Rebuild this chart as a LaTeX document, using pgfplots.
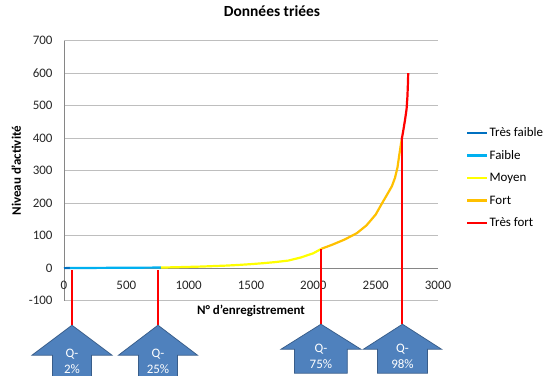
\documentclass[border=0pt]{standalone}
\usepackage{pgfplots}
\pgfplotsset{compat=1.18}
\usepackage{fontspec}
\setmainfont{Carlito}

\definecolor{tresfaible}{RGB}{0,112,192}
\definecolor{faible}{RGB}{0,176,240}
\definecolor{moyen}{RGB}{255,255,0}
\definecolor{fort}{RGB}{255,192,0}
\definecolor{tresfort}{RGB}{255,0,0}
\definecolor{flecheFill}{RGB}{79,129,189}
\definecolor{flecheDraw}{RGB}{56,93,138}
\definecolor{grille}{RGB}{190,190,190}
\definecolor{axe}{RGB}{134,134,134}

% block arrow pointing up: centre x, tip y, head half-width, shaft half-width, base y, bottom y
\newcommand{\fleche}[6]{%
  \draw[fill=flecheFill, draw=flecheDraw, line width=0.75bp]
    (axis cs:#1,#2)
    -- (axis cs:{#1+#3},#5) -- (axis cs:{#1+#4},#5)
    -- (axis cs:{#1+#4},#6) -- (axis cs:{#1-#4},#6)
    -- (axis cs:{#1-#4},#5) -- (axis cs:{#1-#3},#5) -- cycle;}

\begin{document}
\begin{tikzpicture}
\begin{axis}[
  at={(64bp,75.3bp)}, anchor=south west,
  scale only axis, width=374bp, height=260bp,
  xmin=0, xmax=3000, ymin=-100, ymax=700,
  axis x line=middle, axis y line=left,
  hide obscured x ticks=false, hide obscured y ticks=false,
  axis line style={-, draw=axe, line width=0.75bp},
  xtick={0,500,...,3000}, ytick={-100,0,...,700},
  /pgf/number format/assume math mode=true,
  /pgf/number format/1000 sep={},
  ymajorgrids, grid style={draw=grille, line width=0.75bp},
  major tick length=0pt,
  tick label style={font=\fontsize{13}{15}\selectfont, text=black!85},
  xticklabel style={anchor=north, yshift=-9.5bp},
  yticklabel style={anchor=east, xshift=-8bp},
  title={Données triées},
  title style={at={(axis description cs:0.556,1.091)}, anchor=center,
    font=\fontsize{15.5}{18}\selectfont\bfseries},
  xlabel={N° d'enregistrement},
  xlabel style={at={(axis description cs:0.5,0)}, anchor=north, yshift=-1bp,
    font=\fontsize{13}{15}\selectfont\bfseries},
  ylabel={Niveau d'activité},
  ylabel style={at={(axis description cs:-0.128,0.5)}, anchor=center,
    font=\fontsize{13}{15}\selectfont\bfseries},
  legend style={at={(axis description cs:1.075,0.672)}, anchor=north west,
    draw=none, fill=none, inner sep=0pt, row sep=8.5bp,
    font=\fontsize{13}{15}\selectfont,
    nodes={inner sep=1bp, text height=9.5bp, text depth=2.5bp}},
  legend cell align=left,
  legend image code/.code={\draw[#1, line width=2.4bp] (0bp,0bp) -- (20bp,0bp);},
  clip=false,
]

\addplot[tresfaible, line width=2.2bp] coordinates {(0,0.2) (48,0.5)};
\addlegendentry{Très faible}
\addplot[faible, line width=2.2bp] coordinates {
  (48,0.5) (200,0.8) (400,1.2) (600,1.6) (778,2)};
\addlegendentry{Faible}
\addplot[moyen, line width=2.2bp] coordinates {
  (778,2) (900,3) (1000,4) (1100,5) (1200,6.5) (1300,8) (1400,10)
  (1500,12.5) (1600,15.5) (1700,19) (1800,23.5) (1900,33) (2000,46) (2066,60)};
\addlegendentry{Moyen}
\addplot[fort, line width=2.2bp] coordinates {
  (2066,60) (2150,72) (2250,88) (2350,108) (2427,132) (2500,165) (2550,199)
  (2600,232) (2630,252) (2655,278) (2675,310) (2690,350) (2700,375) (2708,394)};
\addlegendentry{Fort}
\addplot[tresfort, line width=2.2bp] coordinates {
  (2708,394) (2720,420) (2735,455) (2748,490) (2755,530) (2759,570) (2761,600)};
\addlegendentry{Très fort}

% quantile markers
\addplot[tresfort, line width=1.5bp, forget plot] coordinates {(64,-6) (64,-175.4)};
\addplot[tresfort, line width=1.5bp, forget plot] coordinates {(754,-6) (754,-175.4)};
\addplot[tresfort, line width=1.5bp, forget plot] coordinates {(2061,60) (2061,-172.3)};
\addplot[tresfort, line width=1.5bp, forget plot] coordinates {(2711,394) (2711,-172.3)};

\fleche{64}{-175.4}{321}{156}{-267.7}{-340}
\fleche{754}{-175.4}{317}{156}{-267.7}{-340}
\fleche{2061}{-172.3}{320}{212}{-249.2}{-323}
\fleche{2715}{-172.3}{313}{200}{-249.2}{-323}

\begin{scope}[every node/.style={text=white, align=center,
    font=\fontsize{13}{16}\selectfont}]
\node at (axis cs:64,-286) {Q-\\2\%};
\node at (axis cs:754,-286) {Q-\\25\%};
\node at (axis cs:2061,-270.8) {Q-\\75\%};
\node at (axis cs:2715,-270.8) {Q-\\98\%};
\end{scope}
\end{axis}
\pgfresetboundingbox
\path[use as bounding box] (0bp,0bp) rectangle (544bp,376bp);
\end{tikzpicture}
\end{document}
